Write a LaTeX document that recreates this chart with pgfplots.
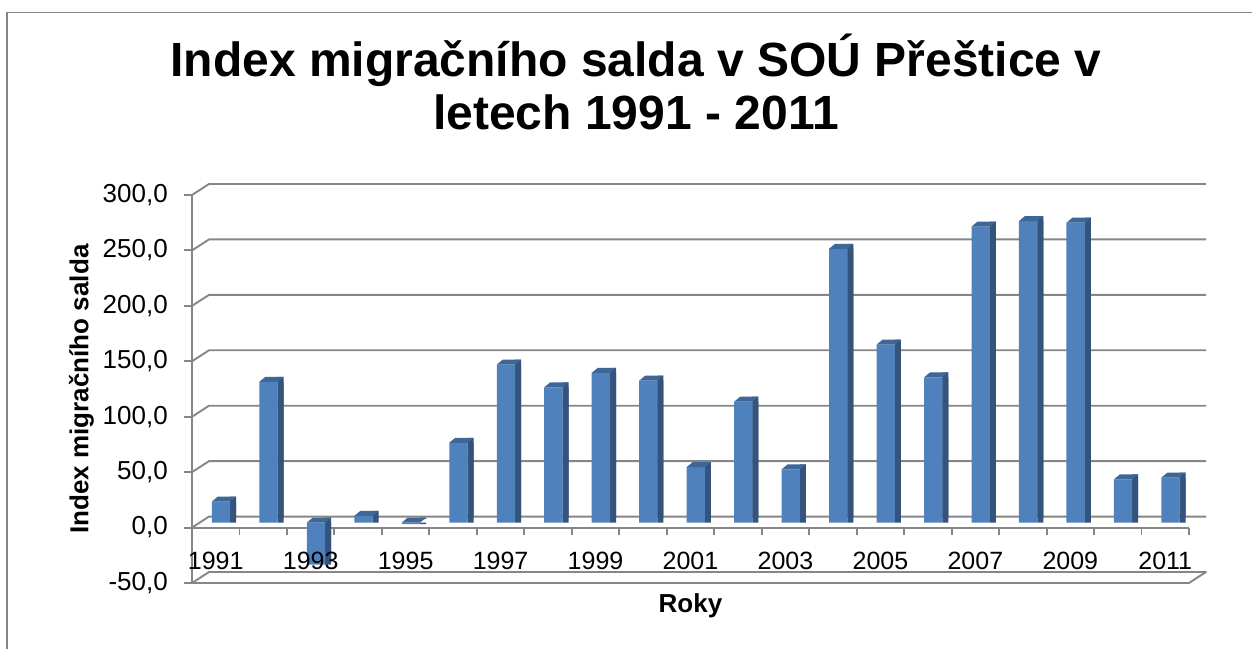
\documentclass[border=0pt]{standalone}
\usepackage{pgfplots}
\pgfplotsset{compat=1.18}
\usepackage{pgfplotstable}
\usepackage{fontspec}
\setmainfont{Liberation Sans}
\definecolor{barfront}{RGB}{79,129,189}
\definecolor{barside}{RGB}{52,84,126}
\definecolor{bartop}{RGB}{62,103,152}
\definecolor{gridc}{RGB}{134,134,134}
\pgfdeclareplotmark{topface}{%
  \pgfpathmoveto{\pgfpoint{-3.85pt}{5pt}}%
  \pgfpathlineto{\pgfpoint{2.15pt}{10pt}}%
  \pgfpathlineto{\pgfpoint{20.45pt}{10pt}}%
  \pgfpathlineto{\pgfpoint{14.45pt}{5pt}}%
  \pgfpathclose\pgfusepathqfill}
\pgfplotstableread{
x val top
0 19 19
1 127 127
2 -38 0
3 6 6
4 -1.5 0
5 72 72
6 142.5 142.5
7 122 122
8 135 135
9 128 128
10 50 50
11 109 109
12 48 48
13 247 247
14 160.5 160.5
15 131 131
16 267 267
17 272 272
18 270.5 270.5
19 39 39
20 40.6 40.6
}\datatable
\begin{document}
\begin{tikzpicture}
\useasboundingbox (0pt,0pt) rectangle (1252pt,648pt);
\draw[gridc, line width=1.6pt] (7pt,-5pt) -- (7pt,635.5pt) -- (1260pt,635.5pt);
\node[anchor=base, inner sep=0pt, font=\bfseries\fontsize{48}{53}\selectfont] at (636pt,571pt) {Index migračního salda v SOÚ Přeštice v};
\node[anchor=base, inner sep=0pt, font=\bfseries\fontsize{48}{53}\selectfont] at (636pt,518pt) {letech 1991 - 2011};
\begin{axis}[
  at={(192pt,65pt)}, anchor=south west,
  scale only axis, width=997pt, height=388pt,
  xmin=-0.5, xmax=20.5, ymin=-50, ymax=300,
  clip=false, axis on top,
  axis line style={draw=none},
  major tick length=0pt,
  xtick style={draw=none}, ytick style={draw=none},
  xtick={0,2,...,20},
  xticklabels={1991,1993,1995,1997,1999,2001,2003,2005,2007,2009,2011},
  ytick={-50,0,50,100,150,200,250,300},
  /pgf/number format/.cd, fixed, fixed zerofill, precision=1, use comma, assume math mode=true,
  /pgfplots/.cd,
  xticklabel style={font=\fontsize{25}{30}\selectfont, anchor=base, inner sep=0pt, yshift=14pt},
  yticklabel style={font=\fontsize{26}{31}\selectfont, anchor=east, inner sep=0pt, xshift=-24pt},
  ylabel={Index migračního salda},
  ylabel style={at={(axis description cs:-0.111,0.5)}, anchor=center, rotate=0, inner sep=0pt, font=\bfseries\fontsize{26}{31}\selectfont},
  xlabel={Roky},
  xlabel style={at={(axis description cs:0.5,-0.0773)}, anchor=base, inner sep=0pt, font=\bfseries\fontsize{26}{31}\selectfont},
]
% back wall gridlines
\pgfplotsinvokeforeach{0,50,100,150,200,250,300}{
  \draw[gridc, line width=1.9pt] (axis cs:-0.5,#1) -- ([shift={(17pt,11pt)}]axis cs:-0.5,#1) -- ([shift={(17pt,11pt)}]axis cs:20.5,#1);
}
% floor at -50
\draw[gridc, line width=1.9pt, line join=round] (axis cs:-0.5,-50) -- ([shift={(17pt,11pt)}]axis cs:-0.5,-50) -- ([shift={(17pt,11pt)}]axis cs:20.5,-50) -- (axis cs:20.5,-50) -- cycle;
% left axis and ticks
\draw[gridc, line width=1.9pt] (axis cs:-0.5,-50) -- (axis cs:-0.5,300);
\pgfplotsinvokeforeach{-50,0,50,100,150,200,250,300}{
  \draw[gridc, line width=1.9pt] (axis cs:-0.5,#1) -- ++(-8pt,0pt);
}
% front zero line with ticks
\draw[gridc, line width=1.9pt] (axis cs:-0.5,0) -- (axis cs:20.5,0);
\pgfplotsinvokeforeach{-0.5,0.5,1.5,2.5,3.5,4.5,5.5,6.5,7.5,8.5,9.5,10.5,11.5,12.5,13.5,14.5,15.5,16.5,17.5,18.5,19.5,20.5}{
  \draw[gridc, line width=1.9pt] (axis cs:#1,0) -- ++(0pt,-7pt);
}
% bars (3D look): side faces, top faces, front faces
\addplot[ybar, bar width=6pt, bar shift=17.45pt, yshift=10pt, fill=barside, draw=none] table[x=x,y=val]{\datatable};
\addplot[ybar, bar width=6pt, bar shift=17.45pt, yshift=5pt, fill=barside, draw=none] table[x=x,y=val]{\datatable};
\addplot[only marks, mark=topface, mark options={fill=bartop, draw=none}] table[x=x,y=top]{\datatable};
\addplot[ybar, bar width=18.3pt, bar shift=5.3pt, yshift=5pt, fill=barfront, draw=none] table[x=x,y=val]{\datatable};
\end{axis}
\end{tikzpicture}
\end{document}
